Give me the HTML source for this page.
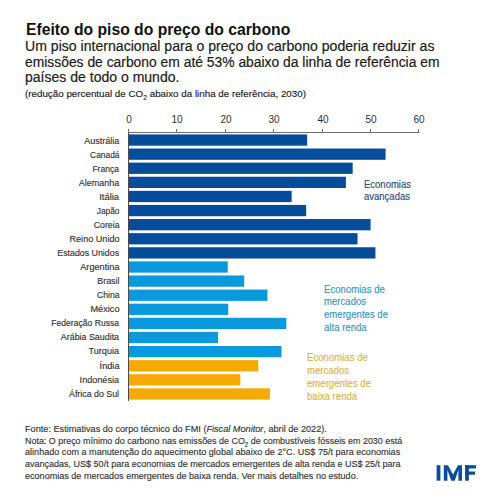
<!DOCTYPE html>
<html><head><meta charset="utf-8"><style>
html,body{margin:0;padding:0;width:500px;height:500px;overflow:hidden;background:#fff;}
.g{position:absolute;left:0;top:0;}
.t{position:absolute;white-space:nowrap;font-family:"Liberation Sans", sans-serif;line-height:20px;}
sub{font-size:70%;vertical-align:-0.45em;line-height:0;}
</style></head><body>
<svg class="g" width="500" height="500" viewBox="0 0 500 500"><line x1="128.5" y1="132.5" x2="419.5" y2="132.5" stroke="#707070" stroke-width="1"/><line x1="128.50" y1="129" x2="128.50" y2="132.5" stroke="#707070" stroke-width="1"/><line x1="176.50" y1="129" x2="176.50" y2="132.5" stroke="#707070" stroke-width="1"/><line x1="225.50" y1="129" x2="225.50" y2="132.5" stroke="#707070" stroke-width="1"/><line x1="273.50" y1="129" x2="273.50" y2="132.5" stroke="#707070" stroke-width="1"/><line x1="322.50" y1="129" x2="322.50" y2="132.5" stroke="#707070" stroke-width="1"/><line x1="370.50" y1="129" x2="370.50" y2="132.5" stroke="#707070" stroke-width="1"/><line x1="418.50" y1="129" x2="418.50" y2="132.5" stroke="#707070" stroke-width="1"/><rect x="128.5" y="134.41" width="178.66" height="11.28" fill="#054c9b"/><rect x="128.5" y="148.52" width="257.09" height="11.28" fill="#054c9b"/><rect x="128.5" y="162.62" width="224.17" height="11.28" fill="#054c9b"/><rect x="128.5" y="176.73" width="217.39" height="11.28" fill="#054c9b"/><rect x="128.5" y="190.83" width="163.16" height="11.28" fill="#054c9b"/><rect x="128.5" y="204.94" width="177.69" height="11.28" fill="#054c9b"/><rect x="128.5" y="219.04" width="242.08" height="11.28" fill="#054c9b"/><rect x="128.5" y="233.15" width="229.01" height="11.28" fill="#054c9b"/><rect x="128.5" y="247.25" width="246.93" height="11.28" fill="#054c9b"/><rect x="128.5" y="261.36" width="99.25" height="11.28" fill="#0a99dc"/><rect x="128.5" y="275.46" width="115.72" height="11.28" fill="#0a99dc"/><rect x="128.5" y="289.57" width="138.96" height="11.28" fill="#0a99dc"/><rect x="128.5" y="303.67" width="99.74" height="11.28" fill="#0a99dc"/><rect x="128.5" y="317.78" width="157.84" height="11.28" fill="#0a99dc"/><rect x="128.5" y="331.88" width="89.57" height="11.28" fill="#0a99dc"/><rect x="128.5" y="345.99" width="153.00" height="11.28" fill="#0a99dc"/><rect x="128.5" y="360.09" width="129.76" height="11.28" fill="#f4aa00"/><rect x="128.5" y="374.20" width="111.84" height="11.28" fill="#f4aa00"/><rect x="128.5" y="388.31" width="141.38" height="11.28" fill="#f4aa00"/><line x1="128.5" y1="132.5" x2="128.5" y2="401" stroke="#4a4a4a" stroke-width="1"/><rect x="436.6" y="465.2" width="3.8" height="15.5" fill="#0d4c9b"/><polygon points="443.8,480.7 443.8,465.2 448.0,465.2 453.0,474.6 458.0,465.2 462.0,465.2 462.0,480.7 458.4,480.7 458.4,470.0 454.7,480.7 451.3,480.7 447.4,470.0 447.4,480.7" fill="#0d4c9b"/><rect x="465.1" y="465.2" width="3.8" height="15.5" fill="#0d4c9b"/><rect x="465.1" y="465.2" width="11.0" height="3.3" fill="#0d4c9b"/><rect x="465.1" y="471.5" width="10.0" height="3.2" fill="#0d4c9b"/></svg>
<div class="t" style="left:25.80px;top:20px;font-size:16px;color:#111;font-weight:bold;transform:scaleX(0.9810);transform-origin:left top;">Efeito do piso do preço do carbono</div><div class="t" style="left:24.60px;top:36px;font-size:14px;color:#1c1c1c;font-weight:normal;-webkit-text-stroke:0.2px currentColor;transform:scaleX(1.0060);transform-origin:left top;">Um piso internacional para o preço do carbono poderia reduzir as</div><div class="t" style="left:24.60px;top:52px;font-size:14px;color:#1c1c1c;font-weight:normal;-webkit-text-stroke:0.2px currentColor;transform:scaleX(0.9900);transform-origin:left top;">emissões de carbono em até 53% abaixo da linha de referência em</div><div class="t" style="left:24.60px;top:67px;font-size:14px;color:#1c1c1c;font-weight:normal;-webkit-text-stroke:0.2px currentColor;transform:scaleX(1.0020);transform-origin:left top;">países de todo o mundo.</div><div class="t" style="left:24.60px;top:84px;font-size:9.5px;color:#222;font-weight:normal;-webkit-text-stroke:0.15px currentColor;transform:scaleX(1.0310);transform-origin:left top;">(redução percentual de CO<sub>2</sub> abaixo da linha de referência, 2030)</div><div class="t" style="left:79.00px;width:100px;text-align:center;top:110px;font-size:10px;color:#333;font-weight:normal;-webkit-text-stroke:0.05px currentColor;">0</div><div class="t" style="left:127.00px;width:100px;text-align:center;top:110px;font-size:10px;color:#333;font-weight:normal;-webkit-text-stroke:0.05px currentColor;">10</div><div class="t" style="left:176.00px;width:100px;text-align:center;top:110px;font-size:10px;color:#333;font-weight:normal;-webkit-text-stroke:0.05px currentColor;">20</div><div class="t" style="left:224.00px;width:100px;text-align:center;top:110px;font-size:10px;color:#333;font-weight:normal;-webkit-text-stroke:0.05px currentColor;">30</div><div class="t" style="left:273.00px;width:100px;text-align:center;top:110px;font-size:10px;color:#333;font-weight:normal;-webkit-text-stroke:0.05px currentColor;">40</div><div class="t" style="left:321.00px;width:100px;text-align:center;top:110px;font-size:10px;color:#333;font-weight:normal;-webkit-text-stroke:0.05px currentColor;">50</div><div class="t" style="left:369.00px;width:100px;text-align:center;top:110px;font-size:10px;color:#333;font-weight:normal;-webkit-text-stroke:0.05px currentColor;">60</div><div class="t" style="right:380.80px;top:131px;font-size:9px;color:#333;font-weight:normal;-webkit-text-stroke:0.15px currentColor;">Austrália</div><div class="t" style="right:380.80px;top:145px;font-size:9px;color:#333;font-weight:normal;-webkit-text-stroke:0.15px currentColor;transform:scaleX(0.9350);transform-origin:right top;">Canadá</div><div class="t" style="right:380.80px;top:159px;font-size:9px;color:#333;font-weight:normal;-webkit-text-stroke:0.15px currentColor;transform:scaleX(0.9500);transform-origin:right top;">França</div><div class="t" style="right:380.80px;top:173px;font-size:9px;color:#333;font-weight:normal;-webkit-text-stroke:0.15px currentColor;">Alemanha</div><div class="t" style="right:380.80px;top:187px;font-size:9px;color:#333;font-weight:normal;-webkit-text-stroke:0.15px currentColor;transform:scaleX(1.0400);transform-origin:right top;">Itália</div><div class="t" style="right:380.80px;top:201px;font-size:9px;color:#333;font-weight:normal;-webkit-text-stroke:0.15px currentColor;transform:scaleX(0.9300);transform-origin:right top;">Japão</div><div class="t" style="right:380.80px;top:215px;font-size:9px;color:#333;font-weight:normal;-webkit-text-stroke:0.15px currentColor;transform:scaleX(0.9700);transform-origin:right top;">Coreia</div><div class="t" style="right:380.80px;top:229px;font-size:9px;color:#333;font-weight:normal;-webkit-text-stroke:0.15px currentColor;transform:scaleX(1.0100);transform-origin:right top;">Reino Unido</div><div class="t" style="right:380.80px;top:243px;font-size:9px;color:#333;font-weight:normal;-webkit-text-stroke:0.15px currentColor;transform:scaleX(0.9800);transform-origin:right top;">Estados Unidos</div><div class="t" style="right:380.80px;top:257px;font-size:9px;color:#333;font-weight:normal;-webkit-text-stroke:0.15px currentColor;transform:scaleX(1.0200);transform-origin:right top;">Argentina</div><div class="t" style="right:380.80px;top:271px;font-size:9px;color:#333;font-weight:normal;-webkit-text-stroke:0.15px currentColor;transform:scaleX(0.9900);transform-origin:right top;">Brasil</div><div class="t" style="right:380.80px;top:285px;font-size:9px;color:#333;font-weight:normal;-webkit-text-stroke:0.15px currentColor;transform:scaleX(0.9600);transform-origin:right top;">China</div><div class="t" style="right:380.80px;top:299px;font-size:9px;color:#333;font-weight:normal;-webkit-text-stroke:0.15px currentColor;transform:scaleX(1.0200);transform-origin:right top;">México</div><div class="t" style="right:380.80px;top:313px;font-size:9px;color:#333;font-weight:normal;-webkit-text-stroke:0.15px currentColor;transform:scaleX(0.9540);transform-origin:right top;">Federação Russa</div><div class="t" style="right:380.80px;top:327px;font-size:9px;color:#333;font-weight:normal;-webkit-text-stroke:0.15px currentColor;transform:scaleX(0.9860);transform-origin:right top;">Arábia Saudita</div><div class="t" style="right:380.80px;top:341px;font-size:9px;color:#333;font-weight:normal;-webkit-text-stroke:0.15px currentColor;transform:scaleX(1.0200);transform-origin:right top;">Turquia</div><div class="t" style="right:380.80px;top:356px;font-size:9px;color:#333;font-weight:normal;-webkit-text-stroke:0.15px currentColor;transform:scaleX(1.0200);transform-origin:right top;">Índia</div><div class="t" style="right:380.80px;top:370px;font-size:9px;color:#333;font-weight:normal;-webkit-text-stroke:0.15px currentColor;transform:scaleX(1.0100);transform-origin:right top;">Indonésia</div><div class="t" style="right:380.80px;top:384px;font-size:9px;color:#333;font-weight:normal;-webkit-text-stroke:0.15px currentColor;transform:scaleX(0.9800);transform-origin:right top;">África do Sul</div><div class="t" style="left:364.00px;top:175px;font-size:10px;color:#2a4d74;font-weight:normal;-webkit-text-stroke:0.15px currentColor;transform:scaleX(0.9500);transform-origin:left top;">Economias</div><div class="t" style="left:364.00px;top:187px;font-size:10px;color:#2a4d74;font-weight:normal;-webkit-text-stroke:0.15px currentColor;transform:scaleX(0.9500);transform-origin:left top;">avançadas</div><div class="t" style="left:324.00px;top:280px;font-size:10px;color:#3796c0;font-weight:normal;-webkit-text-stroke:0.15px currentColor;transform:scaleX(0.9600);transform-origin:left top;">Economias de</div><div class="t" style="left:324.00px;top:292px;font-size:10px;color:#3796c0;font-weight:normal;-webkit-text-stroke:0.15px currentColor;transform:scaleX(0.9600);transform-origin:left top;">mercados</div><div class="t" style="left:324.00px;top:305px;font-size:10px;color:#3796c0;font-weight:normal;-webkit-text-stroke:0.15px currentColor;transform:scaleX(0.9600);transform-origin:left top;">emergentes de</div><div class="t" style="left:324.00px;top:318px;font-size:10px;color:#3796c0;font-weight:normal;-webkit-text-stroke:0.15px currentColor;transform:scaleX(0.9600);transform-origin:left top;">alta renda</div><div class="t" style="left:307.20px;top:348px;font-size:10px;color:#dbb34a;font-weight:normal;-webkit-text-stroke:0.15px currentColor;transform:scaleX(0.9600);transform-origin:left top;">Economias de</div><div class="t" style="left:307.20px;top:361px;font-size:10px;color:#dbb34a;font-weight:normal;-webkit-text-stroke:0.15px currentColor;transform:scaleX(0.9600);transform-origin:left top;">mercados</div><div class="t" style="left:307.20px;top:374px;font-size:10px;color:#dbb34a;font-weight:normal;-webkit-text-stroke:0.15px currentColor;transform:scaleX(0.9600);transform-origin:left top;">emergentes de</div><div class="t" style="left:307.20px;top:387px;font-size:10px;color:#dbb34a;font-weight:normal;-webkit-text-stroke:0.15px currentColor;transform:scaleX(0.9600);transform-origin:left top;">baixa renda</div><div class="t" style="left:24.80px;top:419px;font-size:9.5px;color:#333;font-weight:normal;-webkit-text-stroke:0.15px currentColor;transform:scaleX(0.9625);transform-origin:left top;">Fonte: Estimativas do corpo técnico do FMI (<i>Fiscal Monitor</i>, abril de 2022).</div><div class="t" style="left:24.80px;top:431px;font-size:9.5px;color:#333;font-weight:normal;-webkit-text-stroke:0.15px currentColor;transform:scaleX(0.9398);transform-origin:left top;">Nota: O preço mínimo do carbono nas emissões de CO<sub>2</sub> de combustíveis fósseis em 2030 está</div><div class="t" style="left:24.80px;top:442px;font-size:9.5px;color:#333;font-weight:normal;-webkit-text-stroke:0.15px currentColor;transform:scaleX(0.9559);transform-origin:left top;">alinhado com a manutenção do aquecimento global abaixo de 2°C. US$ 75/t para economias</div><div class="t" style="left:24.80px;top:454px;font-size:9.5px;color:#333;font-weight:normal;-webkit-text-stroke:0.15px currentColor;transform:scaleX(0.9483);transform-origin:left top;">avançadas, US$ 50/t para economias de mercados emergentes de alta renda e US$ 25/t para</div><div class="t" style="left:24.80px;top:466px;font-size:9.5px;color:#333;font-weight:normal;-webkit-text-stroke:0.15px currentColor;transform:scaleX(0.9531);transform-origin:left top;">economias de mercados emergentes de baixa renda. Ver mais detalhes no estudo.</div>
</body></html>
